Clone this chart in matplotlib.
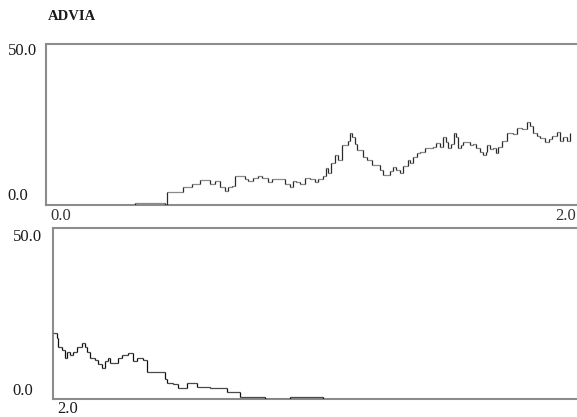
import matplotlib
matplotlib.use("Agg")
import matplotlib.pyplot as plt
import numpy as np

# Step trace, first strip (time 0.0 - 2.0): change times and level held from each time on
top_times = [0.000, 0.335, 0.448, 0.456, 0.516, 0.550, 0.580, 0.618, 0.637, 0.655,
             0.674, 0.686, 0.701, 0.712, 0.750, 0.761, 0.780, 0.799, 0.814, 0.836,
             0.851, 0.900, 0.919, 0.930, 0.942, 0.957, 0.976, 0.994, 1.013, 1.024,
             1.043, 1.055, 1.062, 1.073, 1.089, 1.100, 1.115, 1.137, 1.145, 1.153,
             1.164, 1.171, 1.194, 1.209, 1.228, 1.258, 1.269, 1.296, 1.307, 1.318,
             1.333, 1.345, 1.363, 1.371, 1.382, 1.397, 1.409, 1.427, 1.458, 1.469,
             1.484, 1.495, 1.507, 1.514, 1.525, 1.537, 1.544, 1.552, 1.563, 1.571,
             1.597, 1.608, 1.620, 1.635, 1.646, 1.657, 1.661, 1.672, 1.684, 1.695,
             1.702, 1.718, 1.736, 1.759, 1.774, 1.793, 1.812, 1.823, 1.834, 1.849,
             1.861, 1.879, 1.895, 1.906, 1.925, 1.936, 1.947, 1.962, 1.974]
top_values = [0.0, 0.6, 0.0, 4.0, 5.6, 6.5, 7.8, 6.5, 7.5, 5.5,
              4.5, 5.5, 6.0, 9.0, 8.0, 7.5, 8.5, 9.0, 8.5, 7.0,
              8.0, 6.5, 5.5, 7.5, 7.0, 6.5, 8.5, 8.0, 7.0, 8.0,
              9.0, 11.5, 10.0, 13.0, 15.5, 14.0, 18.6, 20.0, 22.4, 21.0,
              19.0, 17.0, 15.0, 14.0, 12.5, 11.0, 9.3, 10.5, 11.8, 11.0,
              10.0, 12.0, 14.0, 13.0, 15.0, 16.0, 16.5, 17.7, 18.0, 19.3,
              18.0, 21.0, 19.5, 17.7, 19.0, 22.4, 21.0, 17.7, 18.5, 19.6,
              18.5, 19.0, 17.7, 16.5, 15.5, 16.5, 18.6, 17.5, 17.7, 16.0,
              18.0, 20.0, 22.4, 22.0, 23.9, 23.5, 25.8, 24.5, 22.4, 21.5,
              20.8, 19.6, 20.5, 21.5, 22.7, 20.0, 21.0, 20.0, 22.4]

# Step trace, second strip (time from 2.0 on)
bot_times = [2.000, 2.014, 2.019, 2.033, 2.045, 2.052, 2.064, 2.075, 2.089, 2.108,
             2.121, 2.127, 2.139, 2.158, 2.169, 2.183, 2.196, 2.208, 2.215, 2.245,
             2.259, 2.284, 2.301, 2.315, 2.340, 2.353, 2.422, 2.428, 2.452, 2.471,
             2.504, 2.541, 2.591, 2.654, 2.704, 2.798, 2.893, 3.017]
bot_values = [19.3, 17.8, 15.2, 14.3, 12.0, 13.7, 13.0, 13.7, 15.2, 16.4,
              15.2, 13.7, 12.0, 11.5, 10.2, 9.0, 11.1, 12.0, 10.5, 12.0,
              12.9, 13.4, 11.1, 12.0, 11.5, 7.9, 5.8, 4.7, 4.4, 3.2,
              4.7, 3.5, 3.2, 2.0, 0.6, 0.0, 0.6, 0.0]

title_text = "ADVIA"
y_top_label = "50.0"
y_bot_label = "0.0"

W, H = 577, 417
fig = plt.figure(figsize=(W / 100, H / 100), dpi=100)
fig.patch.set_facecolor("white")

serif = ["Liberation Serif", "DejaVu Serif"]
frame_color = "#8c8c8c"


def px(x, y):
    return x / W, 1 - y / H


def draw_strip(rect, times, values, t0, t1, level_color, step_color):
    ax = fig.add_axes(rect)
    ax.set_xlim(t0, t1)
    ax.set_ylim(0, 50)
    ax.set_xticks([])
    ax.set_yticks([])
    ax.spines["right"].set_visible(False)
    for s in ("left", "top", "bottom"):
        ax.spines[s].set_color(frame_color)
        ax.spines[s].set_linewidth(1.5)
    t = np.asarray(times)
    v = np.asarray(values)
    # level segments lighter, transitions darker
    ax.hlines(v[:-1], t[:-1], t[1:], color=level_color, lw=0.9, zorder=3)
    ax.vlines(t[1:], v[:-1], v[1:], color=step_color, lw=0.9, zorder=4)
    return ax


# first strip: 0.0 .. 2.0
l, b = px(46, 205)
_, tp = px(46, 44)
draw_strip([l, b, 1.0 - l, tp - b], top_times, top_values, 0.0, 2.0,
           "#8a8a8a", "#2a2a2a")

# second strip starts at 2.0, same time scale
l2, b2 = px(53, 399)
_, tp2 = px(53, 228)
span = (W - 53) / 265.5
draw_strip([l2, b2, 1.0 - l2, tp2 - b2], bot_times, bot_values, 2.0, 2.0 + span,
           "#4a4a4a", "#111111")

fs = 12
tc = "#1a1a1a"
fig.text(*px(48, 17), title_text, fontsize=10.5, fontweight="bold",
         family=serif, ha="left", va="center", color=tc)
fig.text(*px(37, 51), y_top_label, fontsize=fs, family=serif, ha="right", va="center", color=tc)
fig.text(*px(28, 196), y_bot_label, fontsize=fs, family=serif, ha="right", va="center", color=tc)
fig.text(*px(50, 216), "0.0", fontsize=fs, family=serif, ha="left", va="center", color="#333")
fig.text(*px(576, 216), "2.0", fontsize=fs, family=serif, ha="right", va="center", color="#333")
fig.text(*px(42, 237), y_top_label, fontsize=fs, family=serif, ha="right", va="center", color=tc)
fig.text(*px(33, 391), y_bot_label, fontsize=fs, family=serif, ha="right", va="center", color=tc)
fig.text(*px(57, 409), "2.0", fontsize=fs, family=serif, ha="left", va="center", color=tc)

fig.savefig("out.png", dpi=100, facecolor="white")
